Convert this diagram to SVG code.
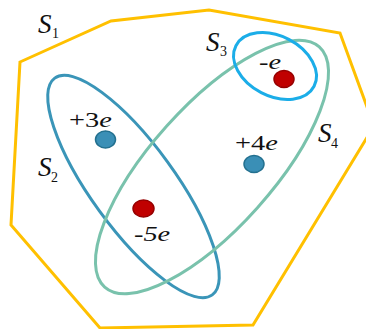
<svg xmlns="http://www.w3.org/2000/svg" width="366" height="329" viewBox="0 0 366 329">
<style>
.reg{fill:none;stroke-width:3}
.lbl{font-family:"Liberation Serif","Times New Roman",serif;font-size:27px;font-style:italic;fill:#111}
.sub{font-family:"Liberation Serif","Times New Roman",serif;font-size:14px;font-style:normal;fill:#111}
.chg{font-family:"Liberation Serif","Times New Roman",serif;font-size:21px;fill:#111}
.it{font-style:italic}
.pos{fill:#3A8FB6;stroke:#23708F;stroke-width:1.5}
.neg{fill:#C00000;stroke:#960000;stroke-width:1.5}
</style>
<rect width="366" height="329" fill="#fff"/>
<g id="S1">
<polygon class="reg" stroke="#FFC000" points="20,62 111,21 209,10 340,33 374,126 253,325 100,328 11,225"/>
<text class="lbl" x="38" y="33">S</text><text class="sub" x="52" y="38">1</text>
</g>
<g id="S2">
<ellipse class="reg" stroke="#3A95B8" cx="133.5" cy="186.5" rx="134" ry="42" transform="rotate(54 133.5 186.5)"/>
<text class="lbl" x="38" y="176">S</text><text class="sub" x="51" y="182">2</text>
</g>
<g id="S4">
<ellipse class="reg" stroke="#79C2AC" cx="212" cy="167" rx="161" ry="61" transform="rotate(-48.2 212 167)"/>
<text class="lbl" x="318" y="142">S</text><text class="sub" x="331" y="148">4</text>
</g>
<g id="S3">
<ellipse class="reg" stroke="#1BADE8" cx="275" cy="66" rx="44" ry="30" transform="rotate(27.4 275 66)"/>
<text class="lbl" x="206" y="51">S</text><text class="sub" x="220" y="56">3</text>
</g>
<g id="q1">
<ellipse class="pos" cx="105.5" cy="139.5" rx="10" ry="8.5"/>
<text class="chg" transform="translate(69 127) scale(1.35 1)">+3<tspan class="it">e</tspan></text>
</g>
<g id="q2">
<ellipse class="pos" cx="254" cy="164" rx="10" ry="8.5"/>
<text class="chg" transform="translate(235 150) scale(1.35 1)">+4<tspan class="it">e</tspan></text>
</g>
<g id="q3">
<ellipse class="neg" cx="284" cy="79" rx="10" ry="8.5"/>
<text class="chg" transform="translate(259 69) scale(1.35 1)">-<tspan class="it">e</tspan></text>
</g>
<g id="q4">
<ellipse class="neg" cx="143.5" cy="208.5" rx="10.5" ry="8.5"/>
<text class="chg it" transform="translate(134 241) scale(1.35 1)">-5e</text>
</g>
</svg>
